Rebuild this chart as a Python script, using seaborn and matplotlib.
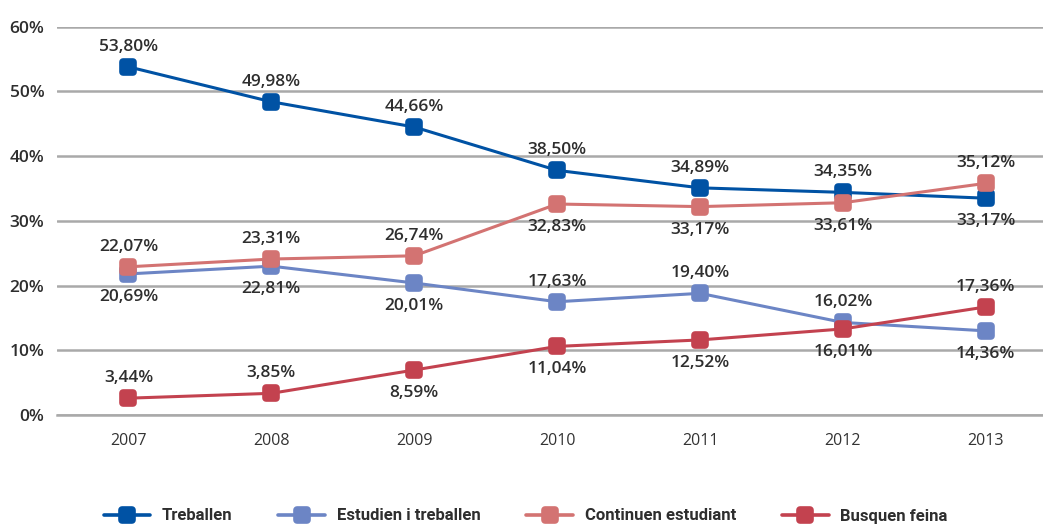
import matplotlib
matplotlib.use("Agg")
import matplotlib.pyplot as plt
from matplotlib.markers import MarkerStyle
from matplotlib.lines import Line2D
import seaborn as sns
import pandas as pd

years = ["2007", "2008", "2009", "2010", "2011", "2012", "2013"]
series_names = ["Treballen", "Estudien i treballen", "Continuen estudiant", "Busquen feina"]

treballen = [53.8, 48.4, 44.5, 37.8, 35.1, 34.4, 33.5]
estudien = [21.8, 23.0, 20.4, 17.5, 18.8, 14.3, 13.0]
continuen = [22.9, 24.1, 24.6, 32.6, 32.2, 32.8, 35.8]
busquen = [2.6, 3.35, 6.95, 10.6, 11.6, 13.3, 16.7]

lab_treballen = ["53,80%", "49,98%", "44,66%", "38,50%", "34,89%", "34,35%", "33,17%"]
lab_estudien = ["20,69%", "22,81%", "20,01%", "17,63%", "19,40%", "16,02%", "14,36%"]
lab_continuen = ["22,07%", "23,31%", "26,74%", "32,83%", "33,17%", "33,61%", "35,12%"]
lab_busquen = ["3,44%", "3,85%", "8,59%", "11,04%", "12,52%", "16,01%", "17,36%"]

# +1 above, -1 below
side_treballen = [1, 1, 1, 1, 1, 1, -1]
side_estudien = [-1, -1, -1, 1, 1, 1, -1]
side_continuen = [1, 1, 1, -1, -1, -1, 1]
side_busquen = [1, 1, -1, -1, -1, -1, 1]

colors = ["#0052a4", "#6c85c5", "#d37372", "#c3424f"]

values = [treballen, estudien, continuen, busquen]
labels = [lab_treballen, lab_estudien, lab_continuen, lab_busquen]
sides = [side_treballen, side_estudien, side_continuen, side_busquen]

rows = []
for name, vals in zip(series_names, values):
    for i, (y, v) in enumerate(zip(years, vals)):
        rows.append({"serie": name, "idx": i, "year": y, "value": v})
df = pd.DataFrame(rows)

sns.set_theme(style="white")
plt.rcParams["font.family"] = ["Open Sans", "DejaVu Sans"]

fig = plt.figure(figsize=(10.43, 5.24), dpi=100)
ax = fig.add_axes([57 / 1043, (524 - 415) / 524, 1 - 57 / 1043, (415 - 26.7) / 524])

mk = MarkerStyle("s", joinstyle="round")
for name, col in zip(series_names, colors):
    sub = df[df["serie"] == name]
    sns.lineplot(data=sub, x="idx", y="value", ax=ax, color=col, linewidth=2.2,
                 marker=mk, markersize=7, markeredgewidth=5.5,
                 markeredgecolor=col, markerfacecolor=col, clip_on=False,
                 legend=False, zorder=3)

for vals, labs, sd in zip(values, labels, sides):
    for i, (v, t, s) in enumerate(zip(vals, labs, sd)):
        off = 14.5 if s > 0 else -16.5
        ax.annotate(t, (i, v), xytext=(0, off), textcoords="offset points",
                    ha="center", va="center", fontsize=12.5, fontweight="semibold",
                    color="#2e2e2e", zorder=5)

ax.set_yticks([0, 10, 20, 30, 40, 50, 60])
ax.set_yticklabels([f"{t}%" for t in [0, 10, 20, 30, 40, 50, 60]])
ax.set_xticks(range(len(years)))
ax.set_xticklabels(years)
ax.set_xticks([i - 0.5 for i in range(len(years) + 1)], minor=True)
ax.set_xlim(-0.5, 6.40)
ax.set_ylim(0, 60)
ax.tick_params(axis="x", which="major", length=0, pad=13, labelsize=11.5, labelcolor="#333333")
ax.tick_params(axis="x", which="minor", length=9, width=1.6, color="#a9a9a9", direction="out")
ax.tick_params(axis="y", length=0, pad=9, labelsize=12.5, labelcolor="#2e2e2e")
for lab in ax.get_yticklabels():
    lab.set_fontweight("semibold")

ax.set_xlabel("")
ax.set_ylabel("")
ax.grid(axis="y", color="#a9a9a9", linewidth=1.8)
ax.grid(axis="x", visible=False)
for sp in ["left", "right", "top"]:
    ax.spines[sp].set_visible(False)
ax.spines["bottom"].set_color("#a9a9a9")
ax.spines["bottom"].set_linewidth(1.8)

handles = [Line2D([0], [0], color=c, linewidth=2.6, marker=mk, markersize=7,
                  markeredgewidth=5.5, markeredgecolor=c, markerfacecolor=c)
           for c in colors]
leg = fig.legend(handles, series_names, loc="center", bbox_to_anchor=(0.504, 8 / 524),
                 ncol=4, frameon=False, handlelength=2.8, handletextpad=0.7,
                 columnspacing=2.75, prop={"family": ["Roboto", "DejaVu Sans"],
                                           "weight": "bold", "size": 12})
for t in leg.get_texts():
    t.set_color("#2e2e2e")

fig.savefig("out.png", dpi=100)
